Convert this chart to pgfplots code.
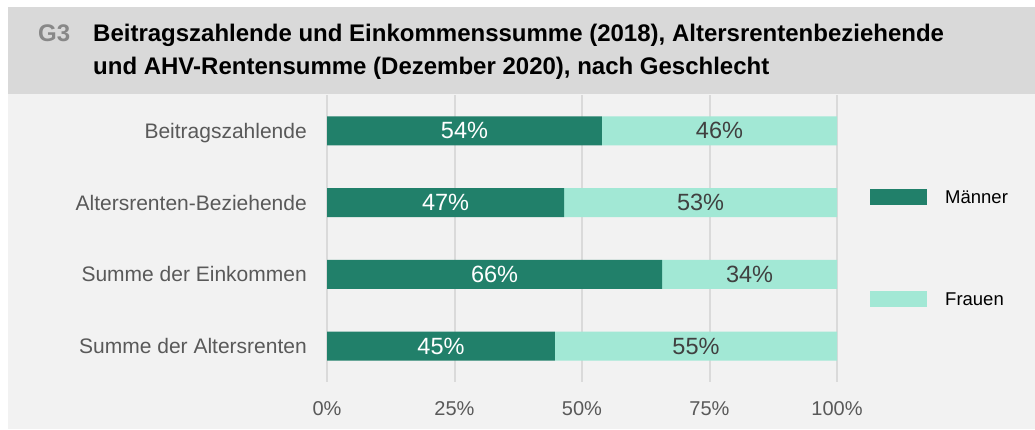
\documentclass[border=0pt]{standalone}
\usepackage{pgfplots}
\pgfplotsset{compat=1.18}
\usepackage{pgfplotstable}
\usepackage{fontspec}
\setmainfont{Liberation Sans}
\definecolor{dk}{HTML}{21806A}
\definecolor{lt}{HTML}{A2E8D5}
\definecolor{panel}{HTML}{F2F2F2}
\definecolor{band}{HTML}{D9D9D9}
\definecolor{gridc}{HTML}{DADADA}
\definecolor{lbl}{HTML}{595959}
\definecolor{flbl}{HTML}{404040}
\definecolor{gthree}{HTML}{888888}

\pgfplotstableread{
y m f
0 53.9 46.1
1 46.5 53.5
2 65.7 34.3
3 44.7 55.3
}\bars

\pgfplotstableread{
y mx mv fx fv
0 26.95 54 76.95 46
1 23.25 47 73.25 53
2 32.85 66 82.85 34
3 22.35 45 72.35 55
}\labels

\begin{document}
\begin{tikzpicture}
\fill[white] (0pt,0pt) rectangle (1035pt,-429pt);
\fill[panel] (8pt,-93pt) rectangle (1035pt,-429pt);
\fill[band] (8pt,-7pt) rectangle (1035pt,-94pt);
\node[anchor=base west, inner sep=0pt, text=gthree, font=\fontsize{24pt}{28pt}\selectfont\bfseries] at (38pt,-41.5pt) {G3};
\node[anchor=base west, inner sep=0pt, font=\fontsize{24pt}{28pt}\selectfont\bfseries] at (93pt,-41.5pt) {Beitragszahlende und Einkommenssumme (2018), Altersrentenbeziehende};
\node[anchor=base west, inner sep=0pt, font=\fontsize{24pt}{28pt}\selectfont\bfseries] at (93pt,-74.5pt) {und AHV-Rentensumme (Dezember 2020), nach Geschlecht};

\begin{axis}[
  at={(327pt,-382pt)}, anchor=south west,
  scale only axis, width=510pt, height=287pt,
  xbar stacked, bar width=29pt,
  xmin=0, xmax=100, ymin=-0.5, ymax=3.5,
  y dir=reverse,
  axis line style={draw=none},
  major tick length=0pt,
  xmajorgrids, grid style={gridc, line width=2pt},
  xtick={0,25,50,75,100},
  xticklabels={0\%,25\%,50\%,75\%,100\%},
  ytick={0,1,2,3},
  yticklabels={Beitragszahlende,Altersrenten-Beziehende,Summe der Einkommen,Summe der Altersrenten},
  xticklabel style={anchor=base, yshift=-33pt, text=lbl, font=\fontsize{20pt}{24pt}\selectfont},
  yticklabel style={anchor=base east, inner xsep=0pt, xshift=-20pt, yshift=-7.5pt, text=lbl, font=\fontsize{21pt}{25pt}\selectfont},
  legend image code/.code={\fill[#1] (0pt,-7pt) rectangle (57pt,9pt);},
  legend style={draw=none, fill=none, inner sep=0pt, at={(axis description cs:1.0647,0.6726)}, anchor=north west,
    font=\fontsize{18.5pt}{22pt}\selectfont, row sep=86pt, nodes={inner sep=0pt},
    /tikz/column 1/.style={column sep=18pt}},
  legend cell align=left,
]
\addplot[fill=dk, draw=none] table[x=m, y=y]{\bars};
\addlegendentry{Männer}
\addplot[fill=lt, draw=none] table[x=f, y=y]{\bars};
\addlegendentry{Frauen}
\end{axis}

\begin{axis}[
  at={(327pt,-382pt)}, anchor=south west,
  scale only axis, width=510pt, height=287pt,
  xmin=0, xmax=100, ymin=-0.5, ymax=3.5,
  y dir=reverse, hide axis,
  nodes near coords={\pgfplotspointmeta\%},
  point meta=explicit symbolic,
  every node near coord/.style={anchor=center, inner sep=0pt, font=\fontsize{23.5pt}{28pt}\selectfont},
]
\addplot[draw=none, mark=none, nodes near coords style={text=white}] table[x=mx, y=y, meta=mv]{\labels};
\addplot[draw=none, mark=none, nodes near coords style={text=flbl}] table[x=fx, y=y, meta=fv]{\labels};
\end{axis}
\end{tikzpicture}
\end{document}
